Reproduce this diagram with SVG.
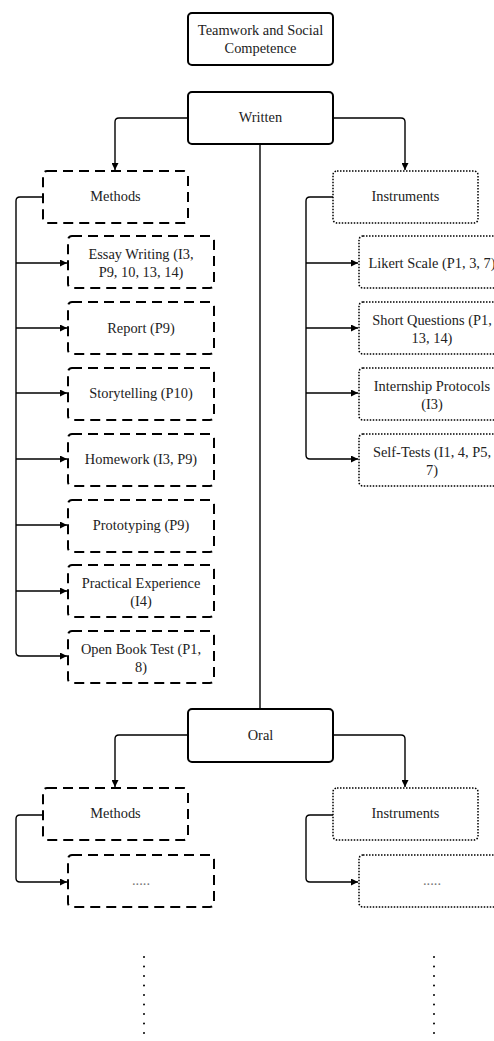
<svg xmlns="http://www.w3.org/2000/svg" width="494" height="1041" viewBox="0 0 494 1041">
<defs>
<marker id="arr" viewBox="0 0 10 10" refX="10" refY="5" markerWidth="11" markerHeight="7" markerUnits="userSpaceOnUse" orient="auto">
<path d="M0,0 L10,5 L0,10 z" fill="#000"/>
</marker>
<style>
.solid{fill:#fff;stroke:#000;stroke-width:2}
.dash{fill:#fff;stroke:#000;stroke-width:2;stroke-dasharray:10 6}
.dot{fill:#fff;stroke:#000;stroke-width:1.5;stroke-dasharray:1.5 1.5}
.t{font-family:"Liberation Serif","Times New Roman",serif;font-size:14.4px;fill:#222;text-anchor:middle}
.c{fill:none;stroke:#000;stroke-width:1.4}
.vd{fill:none;stroke:#000;stroke-width:2;stroke-linecap:round;stroke-dasharray:0 9.5}
</style>
</defs>
<rect width="494" height="1041" fill="#fff"/>
<g id="connectors">
<path class="c" d="M188,118 H119 Q115,118 115,122 V170" marker-end="url(#arr)"/>
<path class="c" d="M333,118 H401 Q405,118 405,122 V170" marker-end="url(#arr)"/>
<path class="c" d="M260,144 V709"/>
<path class="c" d="M42,197 H20 Q16,197 16,201 V652 Q16,656 20,656 H67" marker-end="url(#arr)"/>
<path class="c" d="M16,263 H67" marker-end="url(#arr)"/>
<path class="c" d="M16,328 H67" marker-end="url(#arr)"/>
<path class="c" d="M16,393 H67" marker-end="url(#arr)"/>
<path class="c" d="M16,459 H67" marker-end="url(#arr)"/>
<path class="c" d="M16,525 H67" marker-end="url(#arr)"/>
<path class="c" d="M16,591 H67" marker-end="url(#arr)"/>
<path class="c" d="M333,197 H310 Q306,197 306,201 V455 Q306,459 310,459 H358" marker-end="url(#arr)"/>
<path class="c" d="M306,263 H358" marker-end="url(#arr)"/>
<path class="c" d="M306,328 H358" marker-end="url(#arr)"/>
<path class="c" d="M306,393 H358" marker-end="url(#arr)"/>
<path class="c" d="M188,735 H119 Q115,735 115,739 V787" marker-end="url(#arr)"/>
<path class="c" d="M333,735 H401 Q405,735 405,739 V787" marker-end="url(#arr)"/>
<path class="c" d="M42,815 H20 Q16,815 16,819 V878 Q16,882 20,882 H67" marker-end="url(#arr)"/>
<path class="c" d="M333,815 H310 Q306,815 306,819 V878 Q306,882 310,882 H358" marker-end="url(#arr)"/>
<path class="vd" d="M144,957 V1034"/>
<path class="vd" d="M434,957 V1034"/>
</g>
<g id="root"><rect class="solid" x="188" y="13" width="145" height="52" rx="4"/><text class="t" x="260.5" y="35">Teamwork and Social</text><text class="t" x="260.5" y="53">Competence</text></g>
<g id="written"><rect class="solid" x="188" y="92" width="145" height="52" rx="4"/><text class="t" x="260.5" y="122">Written</text></g>
<g id="w-methods"><rect class="dash" x="43" y="171" width="145" height="52" rx="4"/><text class="t" x="115.5" y="201">Methods</text></g>
<g id="w-instruments"><rect class="dot" x="333" y="171" width="145" height="52" rx="4"/><text class="t" x="405.5" y="201">Instruments</text></g>
<g id="m-essay"><rect class="dash" x="68" y="236" width="146" height="52" rx="4"/><text class="t" x="141" y="259">Essay Writing (I3,</text><text class="t" x="141" y="277">P9, 10, 13, 14)</text></g>
<g id="m-report"><rect class="dash" x="68" y="302" width="146" height="52" rx="4"/><text class="t" x="141" y="333">Report (P9)</text></g>
<g id="m-story"><rect class="dash" x="68" y="368" width="146" height="52" rx="4"/><text class="t" x="141" y="398">Storytelling (P10)</text></g>
<g id="m-homework"><rect class="dash" x="68" y="434" width="146" height="52" rx="4"/><text class="t" x="141" y="464">Homework (I3, P9)</text></g>
<g id="m-proto"><rect class="dash" x="68" y="500" width="146" height="52" rx="4"/><text class="t" x="141" y="530">Prototyping (P9)</text></g>
<g id="m-practical"><rect class="dash" x="68" y="565" width="146" height="52" rx="4"/><text class="t" x="141" y="588">Practical Experience</text><text class="t" x="141" y="606">(I4)</text></g>
<g id="m-openbook"><rect class="dash" x="68" y="631" width="146" height="52" rx="4"/><text class="t" x="141" y="654">Open Book Test (P1,</text><text class="t" x="141" y="672">8)</text></g>
<g id="i-likert"><rect class="dot" x="359" y="236" width="146" height="52" rx="4"/><text class="t" x="432" y="268">Likert Scale (P1, 3, 7)</text></g>
<g id="i-short"><rect class="dot" x="359" y="302" width="146" height="52" rx="4"/><text class="t" x="432" y="325">Short Questions (P1,</text><text class="t" x="432" y="343">13, 14)</text></g>
<g id="i-intern"><rect class="dot" x="359" y="368" width="146" height="52" rx="4"/><text class="t" x="432" y="391">Internship Protocols</text><text class="t" x="432" y="409">(I3)</text></g>
<g id="i-self"><rect class="dot" x="359" y="434" width="146" height="52" rx="4"/><text class="t" x="432" y="457">Self-Tests (I1, 4, P5,</text><text class="t" x="432" y="475">7)</text></g>
<g id="oral"><rect class="solid" x="188" y="709" width="145" height="53" rx="4"/><text class="t" x="260.5" y="740">Oral</text></g>
<g id="o-methods"><rect class="dash" x="43" y="788" width="145" height="52" rx="4"/><text class="t" x="115.5" y="818">Methods</text></g>
<g id="o-instruments"><rect class="dot" x="333" y="788" width="145" height="52" rx="4"/><text class="t" x="405.5" y="818">Instruments</text></g>
<g id="o-m-more"><rect class="dash" x="68" y="855" width="146" height="52" rx="4"/><text class="t" x="141" y="885" style="fill:#777">.....</text></g>
<g id="o-i-more"><rect class="dot" x="359" y="855" width="146" height="52" rx="4"/><text class="t" x="432" y="885" style="fill:#777">.....</text></g>
</svg>
